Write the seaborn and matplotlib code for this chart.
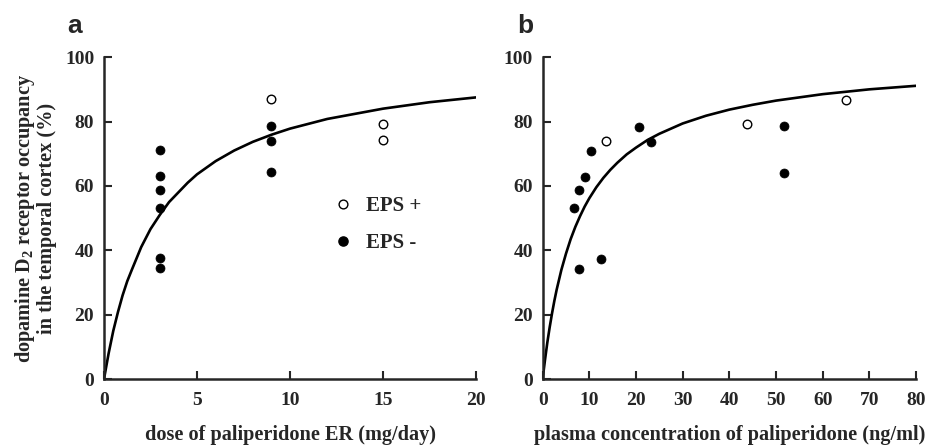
import numpy as np
import pandas as pd
import seaborn as sns
import matplotlib.pyplot as plt
from matplotlib.lines import Line2D

# panel a: dose (mg/day) vs occupancy (%)
dose_neg = [3, 3, 3, 3, 3, 3, 9, 9, 9]
occ_dose_neg = [71.1, 63.0, 58.7, 53.0, 37.5, 34.4, 78.6, 74.0, 64.4]
dose_pos = [9, 15, 15]
occ_dose_pos = [87.0, 79.2, 74.4]

# fitted curve
curve_dose = [0, 0.25, 0.5, 0.75, 1, 1.25, 1.5, 2, 2.5, 3, 3.5, 4, 4.5, 5, 6, 7, 8, 9,
              10, 12, 15, 17.5, 20]
curve_dose_occ = [0, 8, 15, 20.8, 26, 30.4, 34, 41, 46.6, 51, 55, 58, 61, 63.6, 67.7, 71,
                  73.7, 75.9, 77.8, 80.8, 84, 86, 87.5]

# panel b: plasma concentration (ng/ml) vs occupancy (%)
conc_neg = [6.8, 7.7, 7.7, 9.1, 10.3, 12.4, 20.7, 23.3, 51.7, 51.7]
occ_conc_neg = [53.0, 58.6, 34.3, 62.7, 70.9, 37.2, 78.4, 73.7, 78.7, 64.1]
conc_pos = [13.6, 43.7, 65.1]
occ_conc_pos = [74.1, 79.1, 86.6]

curve_conc = [0, 0.25, 0.5, 1, 1.5, 2, 2.5, 3, 4, 5, 6, 7, 8, 9, 10, 11.5, 13, 14.5, 16,
              18, 20, 22.5, 25, 30, 35, 40, 45, 50, 60, 70, 80]
curve_conc_occ = [0, 3.1, 6, 11.4, 16.1, 20.4, 24.3, 27.8, 33.9, 39, 43.5, 47.3, 50.6,
                  53.6, 56.2, 59.6, 62.5, 65, 67.2, 69.8, 71.9, 74.3, 76.2, 79.4, 81.8,
                  83.7, 85.2, 86.5, 88.5, 90, 91.1]

sns.set_style("ticks")
plt.rcParams['font.family'] = ['Liberation Serif', 'DejaVu Serif']
plt.rcParams['font.weight'] = 'bold'
plt.rcParams['mathtext.fontset'] = 'custom'
plt.rcParams['mathtext.rm'] = 'Liberation Serif:bold'
plt.rcParams['mathtext.it'] = 'Liberation Serif:bold'

fig = plt.figure(figsize=(9.35, 4.45), dpi=100)
ax_a = fig.add_axes([0.1112, 0.148, 0.398, 0.7236])
ax_b = fig.add_axes([0.5804, 0.148, 0.3993, 0.7236])


def draw_panel(ax, xc, yc, xn, yn, xp, yp, xmax, xticks):
    sns.lineplot(x=xc, y=yc, ax=ax, color='black', lw=1.9, zorder=2)
    sns.scatterplot(x=xn, y=yn, ax=ax, color='black', s=42, edgecolor='black',
                    linewidth=0.5, zorder=3)
    sns.scatterplot(x=xp, y=yp, ax=ax, facecolor='white', s=38, edgecolor='black',
                    linewidth=1.0, zorder=3)
    ax.set_xlim(0, xmax)
    ax.set_ylim(0, 100)
    ax.set_xticks(xticks)
    ax.set_yticks(range(0, 101, 20))
    ax.tick_params(direction='in', length=6, width=1.5, labelsize=14, pad=7)
    ax.tick_params(axis='x', pad=9)
    for s in ['top', 'right']:
        ax.spines[s].set_visible(False)
    for s in ['left', 'bottom']:
        ax.spines[s].set_linewidth(1.8)
    ax.spines['left'].set_bounds(0, 100)
    for lab in ax.get_xticklabels() + ax.get_yticklabels():
        lab.set_fontweight('bold')


draw_panel(ax_a, curve_dose, curve_dose_occ, dose_neg, occ_dose_neg, dose_pos, occ_dose_pos,
           20, [0, 5, 10, 15, 20])
draw_panel(ax_b, curve_conc, curve_conc_occ, conc_neg, occ_conc_neg, conc_pos, occ_conc_pos,
           80, list(range(0, 81, 10)))

ax_a.set_xlabel('dose of paliperidone ER (mg/day)', fontsize=14.6, fontweight='bold',
                labelpad=12)
ax_b.set_xlabel('plasma concentration of paliperidone (ng/ml)', fontsize=14.6,
                fontweight='bold', labelpad=12)
ax_a.set_ylabel('dopamine D$_2$ receptor occupancy\nin the temporal cortex (%)', fontsize=14.6,
                fontweight='bold', labelpad=6, linespacing=1.0)
ax_b.set_ylabel('')

handles = [
    Line2D([], [], marker='o', ls='', markerfacecolor='white', markeredgecolor='black',
           markersize=6.3, markeredgewidth=1.0, label='EPS +'),
    Line2D([], [], marker='o', ls='', markerfacecolor='black', markeredgecolor='black',
           markersize=6.6, label='EPS -'),
]
ax_a.legend(handles=handles, loc='center left', bbox_to_anchor=(0.565, 0.48), frameon=False,
            prop={'size': 15, 'weight': 'bold'}, handletextpad=0.6, labelspacing=0.8,
            handlelength=1.0)

fig.text(0.0716, 0.925, 'a', fontsize=19, fontweight='bold', family='Liberation Sans')
fig.text(0.553, 0.925, 'b', fontsize=19, fontweight='bold', family='Liberation Sans')

fig.savefig('out.png', dpi=100)
